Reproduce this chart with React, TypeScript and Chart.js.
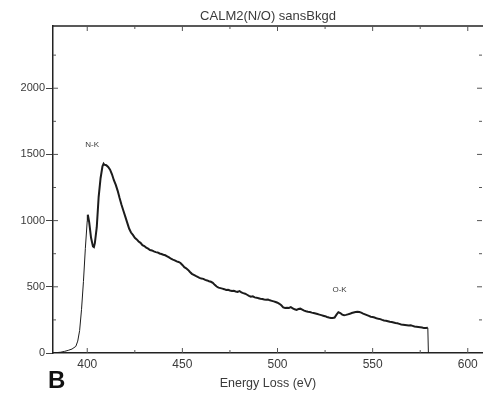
import React, { useEffect, useRef } from "react";
import { Chart, registerables } from "chart.js";

Chart.register(...registerables);

const chartTitle = "CALM2(N/O) sansBkgd";
const xAxisTitle = "Energy Loss (eV)";
const panelLabel = "B";

const energy = [
  382, 384, 386, 388, 390, 392, 394, 395, 396, 397, 398, 399, 400, 400.3, 401, 402, 403, 403.5, 404, 405,
  406, 407, 408, 408.6, 409, 410, 411, 412, 413, 414, 415, 416, 417,
  418, 419, 420, 421, 422, 423, 424, 425, 426, 427, 428, 429, 430, 431, 432, 433, 434, 435, 436, 437,
  438, 439, 440, 441, 442, 443, 444, 445, 446, 447, 448, 449, 450, 451, 452, 453, 454, 455, 456, 457,
  458, 459, 460, 461, 462, 463, 464, 465, 466, 467, 468, 469, 470, 471, 472, 473, 474, 475, 476, 477,
  478, 479, 480, 481, 482, 483, 484, 485, 486, 487, 488, 489, 490, 491, 492, 493, 494, 495, 496, 497,
  498, 499, 500, 501, 502, 503, 504, 505, 506, 507, 508, 509, 510, 511, 512, 513, 514, 515, 516, 517,
  518, 519, 520, 521, 522, 523, 524, 525, 526, 527, 528, 529, 530, 531, 532, 533, 534, 535, 536, 537,
  538, 539, 540, 541, 542, 543, 544, 545, 546, 547, 548, 549, 550, 551, 552, 553, 554, 555, 556, 557,
  558, 559, 560, 561, 562, 563, 564, 565, 566, 567, 568, 569, 570, 571, 572, 573, 574, 575, 576, 577,
  578, 579, 579.3,
];

const counts = [
  0, 3, 6, 12, 20, 30, 50, 90, 170, 330, 540, 790, 1000, 1045, 990, 870, 805, 800, 830, 950,
  1180, 1320, 1410, 1430, 1422, 1418, 1405, 1385, 1350, 1305, 1270, 1225, 1170,
  1120, 1075, 1030, 985, 940, 910, 892, 870, 858, 842, 832, 815, 808, 795, 788, 778, 775, 768, 762, 760,
  752, 748, 742, 738, 730, 722, 712, 705, 700, 692, 688, 680, 665, 648, 640, 628, 612, 598, 590, 582,
  575, 568, 562, 560, 552, 548, 542, 538, 530, 515, 502, 494, 490, 486, 482, 476, 478, 472, 468, 470,
  465, 462, 468, 458, 452, 448, 440, 432, 425, 428, 420, 418, 414, 410, 408, 404, 402, 404, 398, 394,
  390, 385, 380, 372, 360, 345, 340, 342, 340, 346, 338, 330, 326, 332, 335, 328, 320, 315, 312, 310,
  305, 302, 298, 294, 290, 286, 282, 278, 272, 268, 265, 264, 268, 290, 308, 302, 290, 286, 288, 292,
  296, 302, 306, 310, 312, 309, 305, 298, 292, 286, 280, 274, 272, 268, 262, 258, 256, 250, 246, 244,
  240, 236, 234, 230, 226, 224, 220, 216, 214, 212, 210, 208, 210, 205, 200, 198, 196, 194, 192, 188,
  189, 190, 0,
];

const annotations = [
  { text: "N-K", x: 402.6, y: 1570 },
  { text: "O-K", x: 532.6, y: 475 },
];

const xTickValues = [400, 450, 500, 550, 600];
const yTickValues = [0, 500, 1000, 1500, 2000];

const xMin = 382;
const xMax = 608;
const yMin = 0;
const yMax = 2470;

const FONT = "'Liberation Sans', Arial, Helvetica, sans-serif";
const TEXT = "#3a3a3a";
const INK = "#222";

const framePlugin = {
  id: "frame",
  afterDraw(chart: any) {
    const { ctx, chartArea, scales } = chart;
    const xs = scales.x;
    const ys = scales.y;
    ctx.save();
    ctx.strokeStyle = INK;
    ctx.lineWidth = 1.5;
    ctx.beginPath();
    ctx.moveTo(chartArea.left, chartArea.top);
    ctx.lineTo(chartArea.right, chartArea.top);
    ctx.stroke();
    ctx.lineWidth = 1;
    ctx.strokeStyle = "#555";
    for (let v = 400; v <= 600; v += 25) {
      const px = xs.getPixelForValue(v);
      const len = v % 50 === 0 ? 5 : 3;
      ctx.beginPath();
      ctx.moveTo(px, chartArea.bottom);
      ctx.lineTo(px, chartArea.bottom - len);
      ctx.moveTo(px, chartArea.top);
      ctx.lineTo(px, chartArea.top + len);
      ctx.stroke();
    }
    for (let v = 250; v <= 2250; v += 250) {
      const py = ys.getPixelForValue(v);
      const len = v % 500 === 0 ? 5 : 3;
      ctx.beginPath();
      ctx.moveTo(chartArea.left, py);
      ctx.lineTo(chartArea.left + len, py);
      ctx.moveTo(chartArea.right - 1, py);
      ctx.lineTo(chartArea.right - 1 - len, py);
      ctx.stroke();
    }
    ctx.fillStyle = TEXT;
    ctx.font = `8px ${FONT}`;
    ctx.textAlign = "center";
    ctx.textBaseline = "middle";
    for (const a of annotations) {
      ctx.fillText(a.text, xs.getPixelForValue(a.x), ys.getPixelForValue(a.y));
    }
    ctx.fillStyle = "#111";
    ctx.font = `bold 24px ${FONT}`;
    ctx.textAlign = "left";
    ctx.textBaseline = "alphabetic";
    ctx.fillText(panelLabel, 48, 388);
    ctx.restore();
  },
};

export default function App() {
  const canvasRef = useRef<HTMLCanvasElement | null>(null);

  useEffect(() => {
    document.body.style.margin = "0";
    const canvas = canvasRef.current;
    if (!canvas) return;
    const chart = new Chart(canvas, {
      type: "line",
      data: {
        datasets: [
          {
            data: energy.map((e, i) => ({ x: e, y: counts[i] })),
            borderColor: "#1c1c1c",
            borderWidth: 2,
            pointRadius: 0,
            tension: 0,
            fill: false,
            segment: {
              borderWidth: (c: any) => (c.p0.parsed.x < 399.5 || c.p0.parsed.x >= 579 ? 1 : 2),
            },
          },
        ],
      },
      options: {
        responsive: false,
        animation: false,
        events: [],
        layout: { padding: 0 },
        plugins: {
          legend: { display: false },
          tooltip: { enabled: false },
          title: {
            display: true,
            text: chartTitle,
            fullSize: false,
            color: TEXT,
            font: { family: FONT, size: 13, weight: "normal" },
            padding: { top: 9, bottom: 1.4 },
          },
        },
        scales: {
          x: {
            type: "linear",
            min: xMin,
            max: xMax,
            afterBuildTicks: (s: any) => {
              s.ticks = xTickValues.map((v) => ({ value: v }));
            },
            afterFit: (s: any) => {
              s.height = 44;
            },
            grid: { display: false, drawTicks: false },
            border: { display: true, color: INK, width: 1.5 },
            ticks: {
              color: TEXT,
              padding: 4,
              maxRotation: 0,
              autoSkip: false,
              font: { family: FONT, size: 12 },
              callback: (v: any) => String(v),
            },
            title: {
              display: true,
              text: xAxisTitle,
              color: TEXT,
              font: { family: FONT, size: 12.5 },
              padding: { top: 2, bottom: 6 },
            },
          },
          y: {
            type: "linear",
            min: yMin,
            max: yMax,
            afterBuildTicks: (s: any) => {
              s.ticks = yTickValues.map((v) => ({ value: v }));
            },
            afterFit: (s: any) => {
              s.width = 53;
            },
            grid: {
              display: true,
              drawOnChartArea: false,
              drawTicks: true,
              tickLength: 7,
              color: "#444",
              lineWidth: 1,
            },
            border: { display: true, color: INK, width: 1.5 },
            ticks: {
              color: TEXT,
              padding: 1,
              autoSkip: false,
              font: { family: FONT, size: 11 },
              callback: (v: any) => String(v),
            },
          },
        },
      },
      plugins: [framePlugin],
    });
    return () => chart.destroy();
  }, []);

  return (
    <div style={{ width: 483, height: 397, background: "#fff" }}>
      <canvas ref={canvasRef} width={483} height={397} />
    </div>
  );
}
